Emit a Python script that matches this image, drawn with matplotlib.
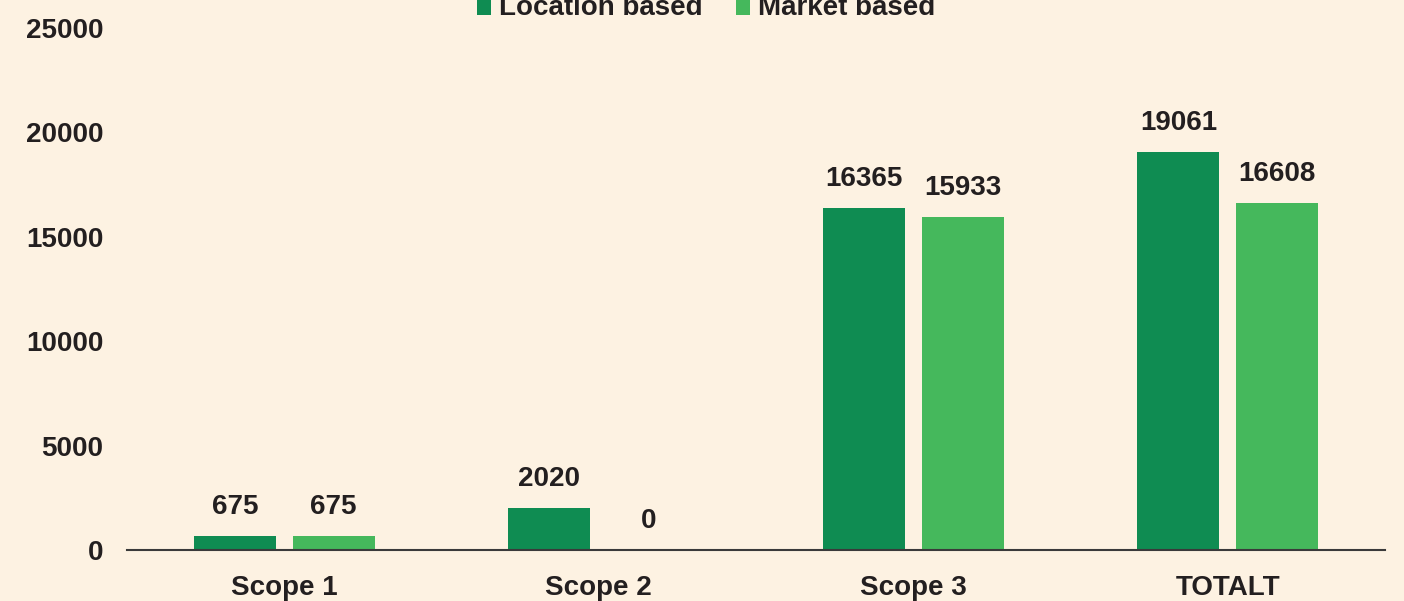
import matplotlib.pyplot as plt
import numpy as np

plt.rcParams['font.family'] = ['Liberation Sans', 'DejaVu Sans']
plt.rcParams['font.weight'] = 'bold'

categories = ['Scope 1', 'Scope 2', 'Scope 3', 'TOTALT']
location_based = [675, 2020, 16365, 19061]
market_based = [675, 0, 15933, 16608]
series_names = ['Location based', 'Market based']

bg = '#FDF2E2'
dark_green = '#0F8C52'
light_green = '#45B85C'
text_col = '#231F20'


def main():
    fig = plt.figure(figsize=(14.04, 6.01), dpi=100, facecolor=bg)
    ax = fig.add_axes([127 / 1404, 51 / 601, 1258 / 1404, 522 / 601])
    ax.set_facecolor(bg)

    x = np.arange(len(categories))
    w = 0.26
    off = 0.157
    b1 = ax.bar(x - off, location_based, w, color=dark_green, label=series_names[0])
    b2 = ax.bar(x + off, market_based, w, color=light_green, label=series_names[1])

    for bars, vals in [(b1, location_based), (b2, market_based)]:
        for rect, v in zip(bars, vals):
            ax.annotate(str(v), (rect.get_x() + rect.get_width() / 2, v),
                        xytext=(0, 21), textcoords='offset points',
                        ha='center', va='center', fontsize=20,
                        fontweight='bold', color=text_col)

    ax.set_xlim(-0.5, 3.5)
    ax.set_ylim(0, 25000)
    ax.set_yticks(range(0, 25001, 5000))
    ax.set_xticks(x)
    ax.set_xticklabels(categories)
    ax.tick_params(axis='both', length=0, labelsize=20, labelcolor=text_col)
    ax.tick_params(axis='x', pad=18)
    ax.tick_params(axis='y', pad=17)

    for s in ['top', 'right', 'left']:
        ax.spines[s].set_visible(False)
    ax.spines['bottom'].set_color('#3A3A3A')
    ax.spines['bottom'].set_linewidth(1.5)

    fig.legend(loc='center', bbox_to_anchor=(0.503, 1 - 8 / 601), ncol=2,
               frameon=False, fontsize=20, handlelength=0.5, handleheight=0.7,
               handletextpad=0.3, columnspacing=1.2, labelcolor=text_col)

    fig.savefig('out.png', dpi=100, facecolor=bg)


if __name__ == "__main__":
    main()
